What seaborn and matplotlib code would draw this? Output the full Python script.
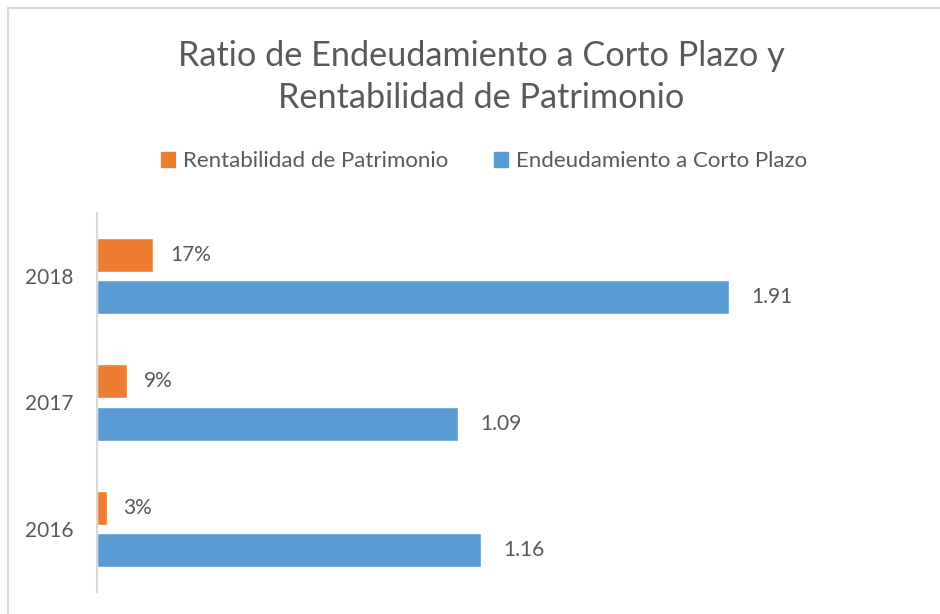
import pandas as pd
import matplotlib.pyplot as plt
import matplotlib.patches as mpatches
import seaborn as sns

# datos
years = ['2018', '2017', '2016']
rentabilidad = [0.17, 0.09, 0.03]
endeudamiento = [1.91, 1.09, 1.16]
series = ['Rentabilidad de Patrimonio', 'Endeudamiento a Corto Plazo']
colors = ['#ED7D31', '#5B9BD5']

df = pd.DataFrame({
    'Año': years * 2,
    'Serie': [series[0]] * 3 + [series[1]] * 3,
    'Valor': rentabilidad + endeudamiento,
})

sns.set_style('white')
plt.rcParams['font.family'] = ['Lato', 'DejaVu Sans']
text_color = '#595959'

fig = plt.figure(figsize=(9.4, 6.14), dpi=100)
ax = fig.add_axes([97 / 940, 1 - 592 / 614, 827 / 940, 379 / 614])

sns.barplot(data=df, x='Valor', y='Año', hue='Serie', order=years,
            hue_order=series, palette=colors, orient='h',
            width=0.667, gap=0.19, saturation=1, legend=True, ax=ax)

ax.set_xlim(0, 2.5)
ax.set_xlabel('')
ax.set_ylabel('')
ax.set_xticks([])
ax.tick_params(axis='y', length=0, labelsize=15, labelcolor=text_color, pad=17)
for side in ['top', 'right', 'bottom']:
    ax.spines[side].set_visible(False)
ax.spines['left'].set_color('#d9d9d9')
ax.spines['left'].set_linewidth(1.5)

# etiquetas de datos
ax.bar_label(ax.containers[0], labels=[f'{v:.0%}' for v in rentabilidad],
             padding=12, fontsize=15, color=text_color)
ax.bar_label(ax.containers[1], labels=[f'{v:.2f}' for v in endeudamiento],
             padding=16, fontsize=15, color=text_color)

# leyenda
handles = [mpatches.Patch(color=c, label=s) for c, s in zip(colors, series)]
ax.legend(handles=handles, loc='center', bbox_to_anchor=(0.515, 1 - 161 / 614),
          bbox_transform=fig.transFigure, ncol=2, frameon=False, fontsize=16,
          labelcolor=text_color, handlelength=0.6, handleheight=0.65,
          handletextpad=0.36, columnspacing=2.1)

fig.text(0.512, 1 - 77 / 614,
         'Ratio de Endeudamiento a Corto Plazo y\nRentabilidad de Patrimonio',
         ha='center', va='center', fontsize=24.7, color=text_color, linespacing=1.42)

# borde del gráfico
fig.add_artist(mpatches.Rectangle((8 / 940, -0.1), 1.2, 1.1 - 8 / 614,
                                  transform=fig.transFigure, fill=False,
                                  edgecolor='#d9d9d9', linewidth=1.5))

fig.savefig('out.png', dpi=100)
